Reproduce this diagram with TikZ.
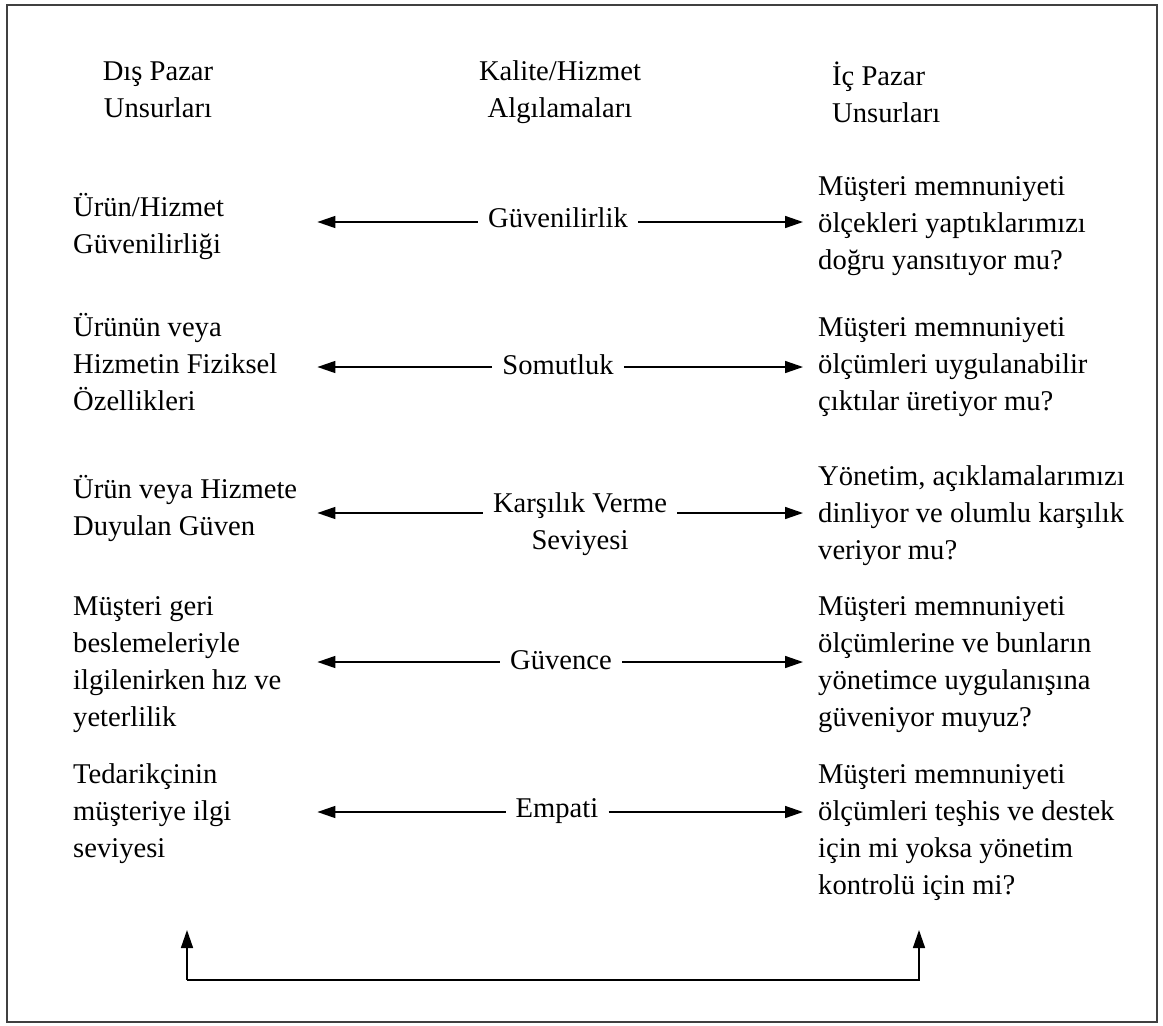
\documentclass[tikz,border=0pt]{standalone}
\usepackage{fontspec}
\setmainfont{Liberation Serif}
\usetikzlibrary{arrows.meta}

\tikzset{
  body/.style={font=\fontsize{28.6}{37}\selectfont},
  lefttext/.style={body, inner sep=0pt, text width=244pt, align=flush left, anchor=base west},
  righttext/.style={body, inner xsep=15pt, inner ysep=0pt, text width=340pt, align=flush left, anchor=base west},
  midlabel/.style={body, inner xsep=10pt, inner ysep=0pt, align=center, anchor=base},
  headc/.style={body, inner sep=0pt, align=center, anchor=base},
  headl/.style={body, inner sep=0pt, align=left, anchor=base west},
  link/.style={line width=1.5pt, -{Triangle[length=18pt,width=12pt]}},
  frame/.style={draw=black!75, line width=2pt}
}

\begin{document}
\begin{tikzpicture}[x=1pt, y=-1pt]
  \useasboundingbox (0,0) rectangle (1163,1026);
  \draw[frame] (7,5) rectangle (1157,1022);

  % column headings (placed by the baseline of their last line)
  \node[headc] (hl) at (158,117) {Dış Pazar\\Unsurları};
  \node[headc] (hm) at (560,117) {Kalite/Hizmet\\Algılamaları};
  \node[headl] (hr) at (832,122) {İç Pazar\\Unsurları};

  % external market elements
  \node[lefttext] (l1) at (73,216) {Ürün/Hizmet\\Güvenilirliği};
  \node[lefttext] (l2) at (73,336) {Ürünün veya\\Hizmetin Fiziksel\\Özellikleri};
  \node[lefttext] (l3) at (73,498) {Ürün veya Hizmete\\Duyulan Güven};
  \node[lefttext] (l4) at (73,615) {Müşteri geri\\beslemeleriyle\\ilgilenirken hız ve\\yeterlilik};
  \node[lefttext] (l5) at (73,783) {Tedarikçinin\\müşteriye ilgi\\seviyesi};

  % quality / service perceptions
  \node[midlabel] (m1) at (558,227) {Güvenilirlik};
  \node[midlabel] (m2) at (558,374) {Somutluk};
  \node[midlabel] (m3) at (580,549) {Karşılık Verme\\Seviyesi};
  \node[midlabel] (m4) at (561,669) {Güvence};
  \node[midlabel] (m5) at (557,817) {Empati};

  % internal market elements
  \node[righttext] (r1) at (803,195) {Müşteri memnuniyeti\\ölçekleri yaptıklarımızı\\doğru yansıtıyor mu?};
  \node[righttext] (r2) at (803,336) {Müşteri memnuniyeti\\ölçümleri uygulanabilir\\çıktılar üretiyor mu?};
  \node[righttext] (r3) at (803,485) {Yönetim, açıklamalarımızı\\dinliyor ve olumlu karşılık\\veriyor mu?};
  \node[righttext] (r4) at (803,615) {Müşteri memnuniyeti\\ölçümlerine ve bunların\\yönetimce uygulanışına\\güveniyor muyuz?};
  \node[righttext] (r5) at (803,783) {Müşteri memnuniyeti\\ölçümleri teşhis ve destek\\için mi yoksa yönetim\\kontrolü için mi?};

  % arrow heights of each row
  \coordinate (y1) at (0,222);
  \coordinate (y2) at (0,367);
  \coordinate (y3) at (0,513);
  \coordinate (y4) at (0,662);
  \coordinate (y5) at (0,812);

  \foreach \i in {1,...,5}{
    \draw[link] (m\i.west |- y\i) -- (l\i.east |- y\i);
    \draw[link] (m\i.east |- y\i) -- (r\i.west |- y\i);
  }

  % feedback loop between the two sides
  \coordinate (fl) at (187,930);
  \coordinate (fr) at (919,930);
  \coordinate (fb) at (0,980);
  \draw[link] (fl |- fb) -- (fr |- fb) -- (fr);
  \draw[link] (fl |- fb) -- (fl);
\end{tikzpicture}
\end{document}
